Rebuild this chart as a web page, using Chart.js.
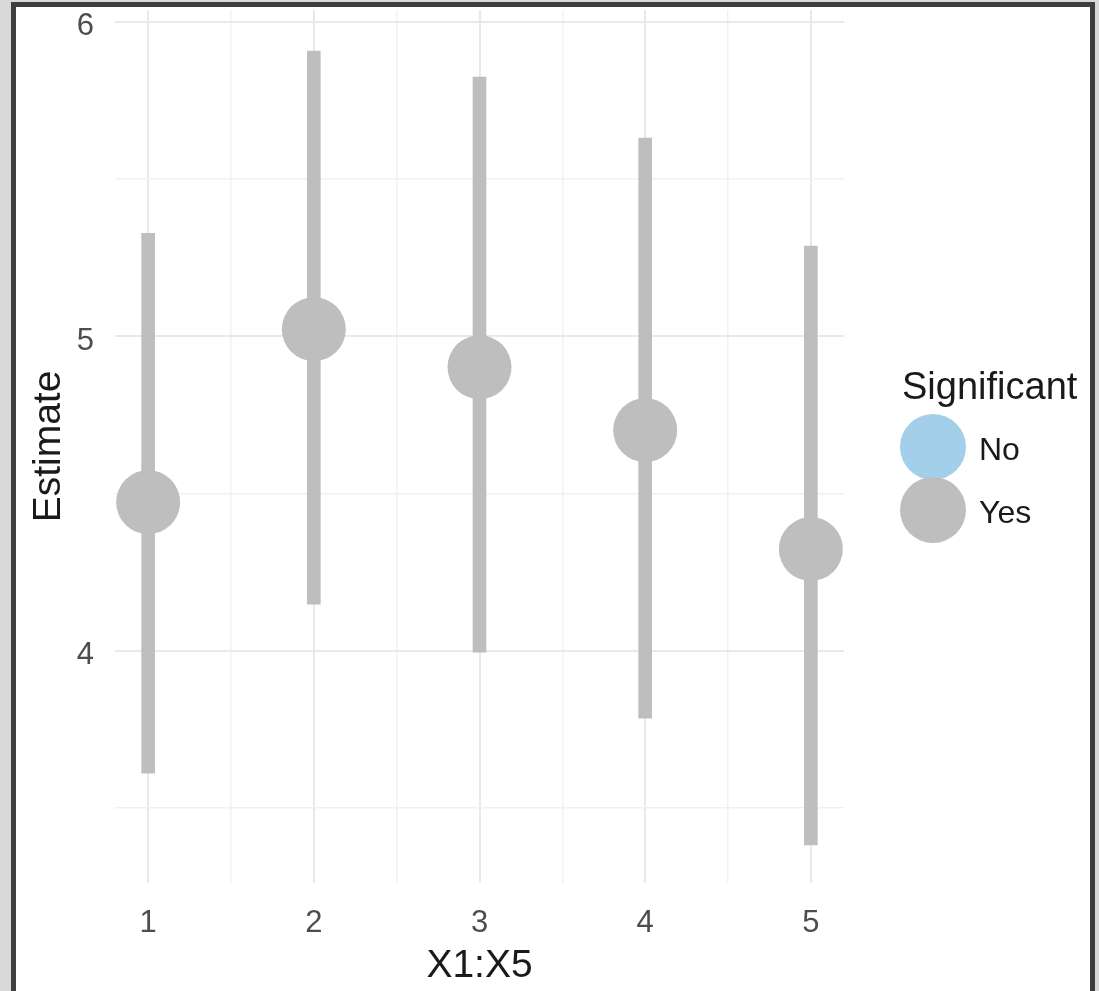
<!DOCTYPE html>
<html>
<head>
<meta charset="utf-8">
<script src="https://cdn.jsdelivr.net/npm/chart.js@4/dist/chart.umd.min.js"></script>
<style>
  html, body { margin: 0; padding: 0; }
  body { width: 1099px; height: 991px; background: #d9d9d9; position: relative; overflow: hidden; font-family: "Liberation Sans", Arial, sans-serif; }
  #frame { position: absolute; left: 11px; top: 2px; width: 1074px; height: 1000px; background: #ffffff; border: 5px solid #3f3f3f; border-bottom: none; }
  #plot { position: absolute; left: 0; top: 0; }
  #legend { position: absolute; left: 902px; top: 359px; color: #1a1a1a; }
  #legend .title { font-size: 38px; line-height: 54px; white-space: nowrap; }
  #legend .item { position: relative; height: 63px; }
  #legend .dot { position: absolute; left: -2px; top: 1px; width: 66px; height: 66px; border-radius: 50%; }
  #legend .lbl { position: absolute; left: 77px; top: 18px; font-size: 32px; line-height: 36px; }
</style>
</head>
<body>
<div id="frame"></div>
<canvas id="plot" width="1099" height="991"></canvas>
<div id="legend"></div>
<script>
// Model estimates with their interval bounds for X1:X5
const categories = [1, 2, 3, 4, 5];
const estimates  = [4.472, 5.022, 4.901, 4.701, 4.323];
const lowerBound = [3.610, 4.148, 3.995, 3.785, 3.382];
const upperBound = [5.327, 5.906, 5.824, 5.630, 5.286];
const significant = ['Yes', 'Yes', 'Yes', 'Yes', 'Yes'];

// Legend levels and their fill colours
const legendLevels = ['No', 'Yes'];
const legendColors = ['#a3cfea', '#bebebe'];

// Axis ticks (majors are labelled, minors only carry a grid line)
const xTicks = [1, 1.5, 2, 2.5, 3, 3.5, 4, 4.5, 5];
const yTicks = [3.5, 4, 4.5, 5, 5.5, 6];

const colorFor = lvl => legendColors[legendLevels.indexOf(lvl)];

const pointData = categories.map((c, i) => ({ x: c, y: estimates[i] }));
const rangeData = categories.map((c, i) => ({ x: c, y: [lowerBound[i], upperBound[i]] }));

const isMajor = v => Math.abs(v - Math.round(v)) < 1e-9;
const gridColor = ctx => (ctx.tick && isMajor(ctx.tick.value)) ? '#e9e9e9' : '#f1f1f1';
const gridWidth = ctx => (ctx.tick && isMajor(ctx.tick.value)) ? 2 : 1.5;

new Chart(document.getElementById('plot'), {
  type: 'scatter',
  data: {
    datasets: [
      {
        type: 'scatter',
        label: 'Estimate',
        data: pointData,
        pointRadius: 32,
        pointHoverRadius: 32,
        pointBorderWidth: 0,
        backgroundColor: significant.map(colorFor),
        borderColor: significant.map(colorFor),
        order: 0
      },
      {
        type: 'bar',
        label: 'Interval',
        data: rangeData,
        barThickness: 13,
        backgroundColor: significant.map(colorFor),
        borderWidth: 0,
        order: 1
      }
    ]
  },
  options: {
    responsive: false,
    animation: false,
    events: [],
    layout: { autoPadding: false, padding: { left: 0, right: 255, top: 10, bottom: 0 } },
    plugins: { legend: { display: false }, tooltip: { enabled: false } },
    scales: {
      x: {
        type: 'linear',
        offset: false,
        min: 0.8,
        max: 5.2,
        afterBuildTicks: s => { s.ticks = xTicks.map(v => ({ value: v })); },
        afterFit: s => { s.height = 108; s.paddingLeft = 0; s.paddingRight = 0; },
        grid: { offset: false, drawTicks: false, color: gridColor, lineWidth: gridWidth },
        border: { display: false },
        ticks: {
          padding: 22,
          color: '#4d4d4d',
          font: { family: 'Liberation Sans', size: 31 },
          maxRotation: 0,
          autoSkip: false,
          callback: v => isMajor(v) ? String(v) : ''
        },
        title: {
          display: true,
          text: 'X1:X5',
          color: '#1a1a1a',
          font: { family: 'Liberation Sans', size: 39 },
          padding: { top: 0, bottom: 1 }
        }
      },
      y: {
        type: 'linear',
        min: 3.261,
        max: 6.037,
        beginAtZero: false,
        afterBuildTicks: s => { s.ticks = yTicks.map(v => ({ value: v })); },
        afterFit: s => { s.width = 115; s.paddingTop = 0; s.paddingBottom = 0; },
        grid: { drawTicks: false, color: gridColor, lineWidth: gridWidth },
        border: { display: false },
        ticks: {
          padding: 21,
          labelOffset: 5,
          color: '#4d4d4d',
          font: { family: 'Liberation Sans', size: 31 },
          autoSkip: false,
          callback: v => isMajor(v) ? String(v) : ''
        },
        title: {
          display: true,
          text: 'Estimate',
          color: '#1a1a1a',
          font: { family: 'Liberation Sans', size: 39 },
          padding: { top: 26, bottom: 0 }
        }
      }
    }
  }
});

// Legend for the "Significant" colour mapping
const legend = document.getElementById('legend');
const title = document.createElement('div');
title.className = 'title';
title.textContent = 'Significant';
legend.appendChild(title);
legendLevels.forEach((lvl, i) => {
  const item = document.createElement('div');
  item.className = 'item';
  const dot = document.createElement('div');
  dot.className = 'dot';
  dot.style.background = legendColors[i];
  const lbl = document.createElement('div');
  lbl.className = 'lbl';
  lbl.textContent = lvl;
  item.appendChild(dot);
  item.appendChild(lbl);
  legend.appendChild(item);
});
</script>
</body>
</html>
